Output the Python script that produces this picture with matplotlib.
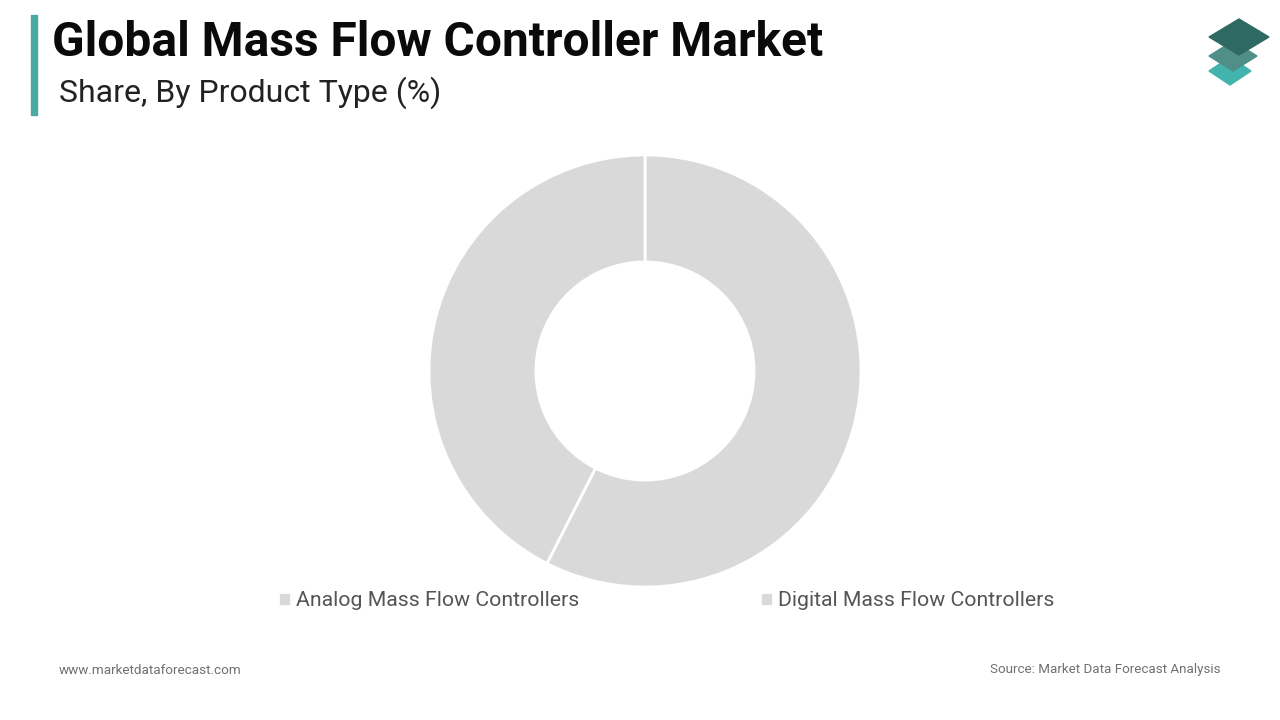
import matplotlib
matplotlib.use("Agg")
import matplotlib.pyplot as plt
from matplotlib.patches import Polygon, Rectangle

plt.rcParams['font.family'] = ['Roboto', 'DejaVu Sans']

labels = ["Analog Mass Flow Controllers", "Digital Mass Flow Controllers"]
shares = [57.5, 42.5]
colors = ["#d9d9d9", "#d9d9d9"]

W, H = 1280, 720
fig = plt.figure(figsize=(12.8, 7.2), dpi=100)

def px(x, y):
    return x / W, 1 - y / H

# accent bar + titles
fig.patches.append(Rectangle(px(31, 115), 6 / W, 100 / H, transform=fig.transFigure,
                             color="#4aa9a4", zorder=2))
fig.text(*px(52, 43), "Global Mass Flow Controller Market", fontsize=34.5, fontweight="bold",
         color="#0a0a0a", va="center", ha="left")
fig.text(*px(59, 93), "Share, By Product Type (%)", fontsize=23, color="#222222",
         va="center", ha="left")

# logo
def diamond(cx, cy, hw, hh, c):
    pts = [px(cx - hw, cy), px(cx, cy - hh), px(cx + hw, cy), px(cx, cy + hh)]
    fig.patches.append(Polygon(pts, closed=True, transform=fig.transFigure, color=c, zorder=3))

diamond(1230, 71, 21, 14, "#42b3ad")
diamond(1233, 56, 24, 15, "#4f8f87")
diamond(1239, 37, 30, 18, "#2e6a62")

# donut
cx, cy, r = 645, 371, 216
ax = fig.add_axes([(cx - r) / W, 1 - (cy + r) / H, 2 * r / W, 2 * r / H])
wedges, _ = ax.pie(shares, colors=colors, startangle=90, counterclock=False,
                   wedgeprops=dict(width=0.495, edgecolor="white", linewidth=2))
ax.set_xlim(-1, 1)
ax.set_ylim(-1, 1)
ax.set_aspect("equal")
ax.axis("off")

fig.legend(wedges, labels, loc="center", bbox_to_anchor=px(666, 601), ncol=2,
           frameon=False, fontsize=15.3, labelcolor="#555555", handlelength=0.6,
           handleheight=0.6, handletextpad=0.25, columnspacing=8.5)

# footer
fig.text(*px(59, 670), "www.marketdataforecast.com", fontsize=9.7, color="#707070",
         va="center", ha="left")
fig.text(*px(1220, 670), "Source: Market Data Forecast Analysis", fontsize=9.6, color="#707070",
         va="center", ha="right")

fig.savefig("out.png", dpi=100)
